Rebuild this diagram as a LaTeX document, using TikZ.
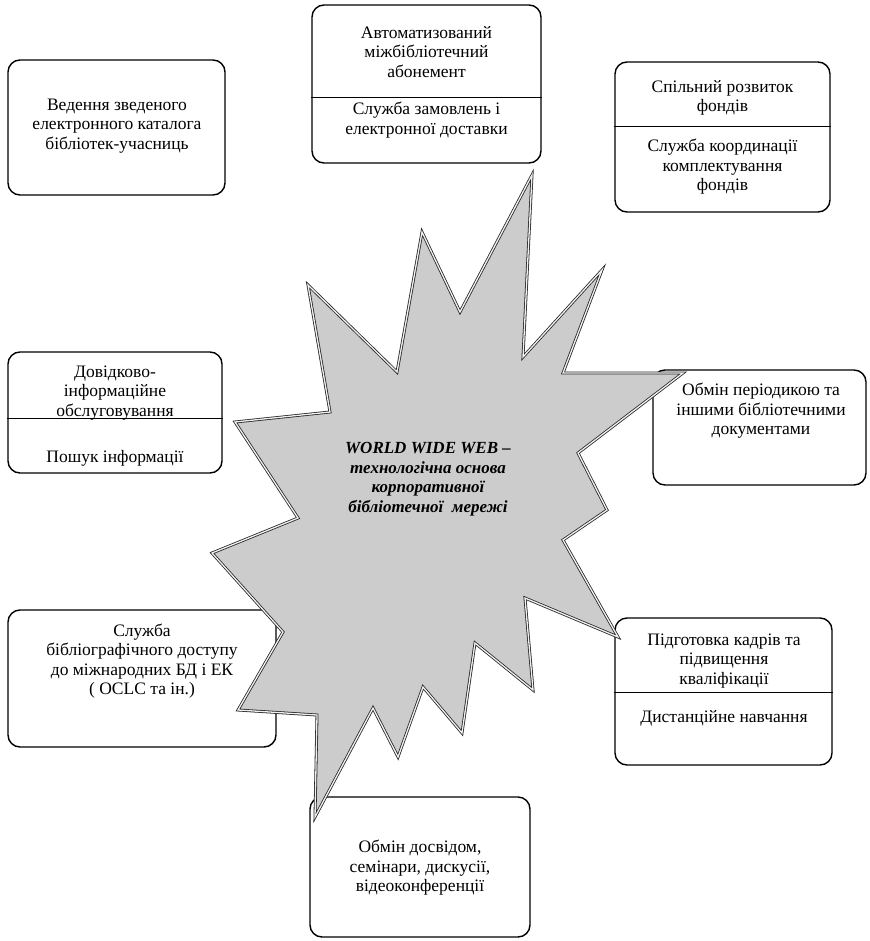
\documentclass[tikz,border=0pt]{standalone}
\usepackage{fontspec}
\setmainfont{Liberation Serif}

\begin{document}
\begin{tikzpicture}[x=1pt,y=-1pt,
    box/.style={draw, line width=1.4pt, rounded corners=12pt, inner sep=0pt},
    txt/.style={align=center, inner sep=0pt, font=\fontsize{17.5}{19.5}\selectfont},
    webtxt/.style={align=center, inner sep=0pt, font=\fontsize{17}{19.5}\selectfont\bfseries\itshape},
    sep/.style={line width=1pt},
    star/.style={fill=black!20, draw=black!85, line width=0.8pt, double=black!6, double distance=1.3pt, line join=miter}]

\useasboundingbox (0,0) rectangle (869,941);

% boxes round the star
\node[box, minimum width=229pt, minimum height=158pt] (abon) at (426.5,84) {};
\node[box, minimum width=217pt, minimum height=135pt] (catalog) at (116.5,127.5) {};
\node[box, minimum width=215pt, minimum height=150pt] (fonds) at (722.5,137) {};
\node[box, minimum width=214pt, minimum height=121pt] (dovid) at (115,412.5) {};
\node[box, minimum width=213pt, minimum height=115pt] (obmin) at (759.5,427.5) {};
\node[box, minimum width=268pt, minimum height=137pt] (bibl) at (142,678.5) {};
\node[box, minimum width=217pt, minimum height=147pt] (kadry) at (723.5,691.5) {};
\node[box, minimum width=220pt, minimum height=140pt] (dosvid) at (420,867) {};

% dividing lines
\draw[sep] (abon.west |- 0,98) -- (abon.east |- 0,98);
\draw[sep] (fonds.west |- 0,127) -- (fonds.east |- 0,127);
\draw[sep] (dovid.west |- 0,418) -- (dovid.east |- 0,418);
\draw[sep] (kadry.west |- 0,692) -- (kadry.east |- 0,692);

% texts
\node[txt] (abonA) at (426.5,52) {Автоматизований\\міжбібліотечний\\абонемент};
\node[txt] (abonB) at (426.5,120) {Служба замовлень і\\електронної доставки};
\node[txt] (catalogA) at (117,126) {Ведення зведеного\\електронного каталога\\бібліотек-учасниць};
\node[txt] (fondsA) at (722.5,98) {Спільний розвиток\\фондів};
\node[txt] (fondsB) at (722.5,167) {Служба координації\\комплектування\\фондів};
\node[txt] (dovidA) at (115,393) {Довідково-\\інформаційне\\обслуговування};
\node[txt] (dovidB) at (115,458) {Пошук інформації};
\node[txt] (obminA) at (761,411) {Обмін періодикою та\\іншими бібліотечними\\документами};
\node[txt] (biblA) at (142,661) {Служба\\бібліографічного доступу\\до міжнародних БД і ЕК\\( OCLC та ін.)};
\node[txt] (kadryA) at (724,661) {Підготовка кадрів та\\підвищення\\кваліфікації};
\node[txt] (kadryB) at (724,718) {Дистанційне навчання};
\node[txt] (dosvidA) at (420,868) {Обмін досвідом,\\семінари, дискусії,\\відеоконференції};

% the star
\filldraw[star] (532,175) -- (523,357) -- (602,270) -- (563,373) -- (683,373)
  -- (578,453) -- (607,510) -- (563,540) -- (618,637) -- (525,598)
  -- (533,690) -- (475,643) -- (462,733) -- (423,687) -- (398,757)
  -- (373,708) -- (315,817) -- (317,715) -- (238,710) -- (283,632)
  -- (212,553) -- (298,518) -- (235,422) -- (330,412) -- (308,285)
  -- (397,372) -- (422,232) -- (460,312) -- cycle;

\node[webtxt] (web) at (428,479) {WORLD WIDE WEB –\\технологічна основа\\корпоративної\\бібліотечної\ \ мережі};
\end{tikzpicture}
\end{document}
